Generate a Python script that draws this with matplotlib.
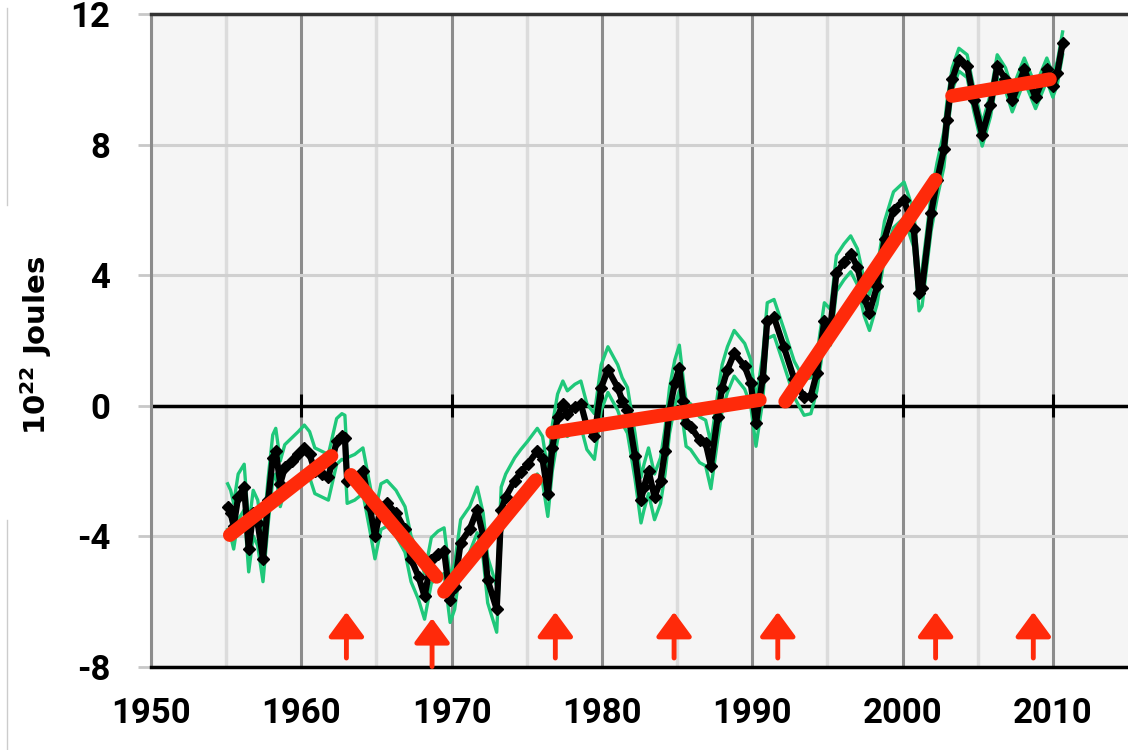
import matplotlib
matplotlib.use('Agg')
import matplotlib.pyplot as plt
from matplotlib.lines import Line2D
import numpy as np

# ocean heat content anomaly, 0-2000 m (10^22 J)
years = [1955.1, 1955.3, 1955.5, 1955.8, 1956.2, 1956.5, 1956.8, 1957.1, 1957.45, 1957.8,
         1958.1, 1958.3, 1958.6, 1958.9, 1959.35, 1959.8, 1960.2, 1960.55, 1960.9, 1961.35,
         1961.8, 1962.0, 1962.35, 1962.7, 1962.9, 1963.05, 1963.55, 1964.1, 1964.55, 1964.9,
         1965.3, 1965.7, 1966.3, 1966.9, 1967.3, 1967.8, 1968.2, 1968.65, 1969.1, 1969.5,
         1969.9, 1970.2, 1970.6, 1971.2, 1971.7, 1972.1, 1972.4, 1973.0, 1973.3, 1973.6,
         1974.2, 1974.6, 1975.05, 1975.7, 1976.05, 1976.4, 1976.7, 1977.05, 1977.4, 1977.7,
         1978.2, 1978.6, 1979.0, 1979.5, 1979.95, 1980.4, 1981.05, 1981.35, 1981.7, 1982.2,
         1982.6, 1982.8, 1983.1, 1983.5, 1983.9, 1984.2, 1984.5, 1984.85, 1985.15, 1985.4,
         1985.6, 1985.9, 1986.5, 1986.9, 1987.25, 1987.7, 1988.0, 1988.35, 1988.8, 1989.5,
         1989.9, 1990.25, 1990.7, 1991.0, 1991.45, 1992.1, 1992.8, 1993.45, 1993.9, 1994.3,
         1994.8, 1995.2, 1995.6, 1996.1, 1996.55, 1997.0, 1997.45, 1997.8, 1998.3, 1998.8,
         1999.4, 2000.1, 2000.75, 2001.1, 2001.3, 2001.9, 2002.3, 2002.75, 2002.95, 2003.3,
         2003.75, 2004.3, 2004.75, 2005.3, 2005.85, 2006.3, 2006.85, 2007.3, 2008.1, 2008.85,
         2009.6, 2010.0, 2010.3, 2010.65]
ohc = [-3.1, -3.3, -3.7, -2.8, -2.5, -4.4, -3.3, -3.6, -4.7, -2.9,
       -1.6, -1.4, -2.4, -1.9, -1.7, -1.5, -1.3, -1.5, -2.0, -2.1,
       -2.2, -1.8, -1.1, -0.95, -1.0, -2.3, -2.2, -2.0, -3.1, -4.0,
       -3.1, -3.0, -3.3, -3.8, -4.7, -5.25, -5.85, -4.75, -4.55, -4.45,
       -5.95, -5.55, -4.2, -3.8, -3.2, -4.0, -5.35, -6.25, -3.2, -2.8,
       -2.3, -2.05, -1.8, -1.4, -1.65, -2.7, -1.3, -0.35, 0.05, -0.25,
       -0.05, 0.05, -0.65, -0.95, 0.55, 1.1, 0.55, 0.15, -0.15, -1.55,
       -2.9, -2.5, -2.0, -2.8, -2.3, -1.4, -0.15, 0.7, 1.15, 0.15,
       -0.55, -0.65, -1.05, -1.15, -1.85, -0.35, 0.55, 1.1, 1.6, 1.2,
       0.7, -0.55, 0.85, 2.6, 2.7, 1.8, 0.8, 0.25, 0.3, 1.0,
       2.6, 2.4, 4.05, 4.4, 4.65, 4.25, 3.3, 2.85, 3.65, 5.1,
       6.0, 6.3, 5.4, 3.45, 3.6, 5.9, 6.9, 7.85, 8.75, 10.0,
       10.6, 10.4, 9.35, 8.3, 9.2, 10.4, 10.0, 9.35, 10.3, 9.45,
       10.3, 9.8, 10.2, 11.1]

# half width of the uncertainty envelope by era
band_start = [1955, 1991, 2003]
band_half = [0.7, 0.55, 0.35]

# straight-line trend pieces (x0, y0) -> (x1, y1)
trend_x0 = [1955.25, 1963.3, 1969.5, 1976.7, 1992.2, 2003.3]
trend_y0 = [-3.97, -2.13, -5.71, -0.83, 0.12, 9.49]
trend_x1 = [1962.0, 1969.0, 1975.6, 1990.5, 2002.2, 2009.8]
trend_y1 = [-1.55, -5.25, -2.29, 0.17, 6.92, 10.0]

# volcanic eruption markers
arrow_x = [1963.0, 1968.7, 1976.9, 1984.8, 1991.7, 2002.2, 2008.7]
arrow_tip = [-6.33, -6.52, -6.33, -6.33, -6.33, -6.33, -6.33]
arrow_base = [-7.74, -8.0, -7.74, -7.74, -7.74, -7.74, -7.74]

RED = '#ff2a0a'
GREEN = '#1fc87a'

years = np.array(years)
ohc = np.array(ohc)
err = np.array(band_half)[np.searchsorted(band_start, years, side='right') - 1]

fig = plt.figure(figsize=(11.28, 7.5), dpi=100)
ax = fig.add_axes([151 / 1128, 1 - 666.5 / 750, 977 / 1128, 652.5 / 750])
ax.set_facecolor('#f5f5f5')

ax.set_xlim(1950, 2015)
ax.set_ylim(-8, 12)
ax.set_xticks(np.arange(1950, 2011, 10))
ax.set_xticks(np.arange(1955, 2015, 10), minor=True)
ax.set_yticks(np.arange(-8, 13, 4))

ax.grid(True, which='major', axis='x', color='#8c8c8c', lw=2.2, zorder=0)
ax.grid(True, which='minor', axis='x', color='#dcdcdc', lw=2.5, zorder=0)
ax.grid(True, which='major', axis='y', color='#d0d0d0', lw=2.2, zorder=0)
ax.set_axisbelow(True)

ax.spines['right'].set_visible(False)
ax.spines['top'].set_color('#333333')
ax.spines['top'].set_linewidth(2.5)
ax.spines['left'].set_color('#8c8c8c')
ax.spines['left'].set_linewidth(2.2)
ax.spines['bottom'].set_color('black')
ax.spines['bottom'].set_linewidth(2.5)

tick_font = dict(family=['Roboto', 'DejaVu Sans'], weight='bold', size=25)
ax.tick_params(axis='y', which='major', length=9.5, width=2, color='#c8c8c8', pad=20)
ax.tick_params(axis='x', which='both', length=0, pad=22)
ax.set_xticklabels([str(v) for v in range(1950, 2011, 10)], **tick_font)
ax.set_yticklabels([str(v) for v in range(-8, 13, 4)], **tick_font)

# zero axis with its small decade ticks
ax.axhline(0, color='black', lw=2.5, zorder=1)
ax.vlines(np.arange(1960, 2011, 10), -0.35, 0.35, color='black', lw=2.2, zorder=1)

# uncertainty envelope, then the series itself
ax.plot(years, ohc + err, color=GREEN, lw=2.4, zorder=2)
ax.plot(years, ohc - err, color=GREEN, lw=2.4, zorder=2)
ax.plot(years, ohc, color='black', lw=4.5, marker='D', ms=6, zorder=3)

for x0, y0, x1, y1 in zip(trend_x0, trend_y0, trend_x1, trend_y1):
    ax.plot([x0, x1], [y0, y1], color=RED, lw=10, solid_capstyle='round', zorder=4)

for x, tip, base in zip(arrow_x, arrow_tip, arrow_base):
    ax.annotate('', xy=(x, tip), xytext=(x, base),
                arrowprops=dict(arrowstyle='-|>,head_length=0.75,head_width=0.55',
                                color=RED, lw=3.5, mutation_scale=20, shrinkA=0, shrinkB=0),
                zorder=5, annotation_clip=False)

fig.text(36 / 1128, 1 - 345 / 750, r'$\mathbf{10^{22}}$ Joules', rotation=90,
         ha='center', va='center', fontsize=21, fontweight='bold', family='DejaVu Sans')

# thin frame line on the far left
fig.add_artist(Line2D([7 / 1128, 7 / 1128], [1 - 8 / 750, 1 - 205 / 750], color='#cccccc', lw=1))
fig.add_artist(Line2D([7 / 1128, 7 / 1128], [0, 1 - 520 / 750], color='#cccccc', lw=1))

plt.savefig('out.png', dpi=100)
plt.close()
